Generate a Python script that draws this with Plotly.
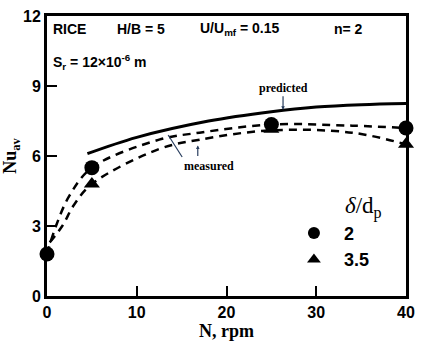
import plotly.graph_objects as go

# measured points
n_rpm = [0, 5, 25, 40]
nu_d2 = [1.8, 5.5, 7.35, 7.2]
n_rpm_t = [5, 25, 40]
nu_d35 = [4.8, 7.15, 6.5]

# predicted curve
pred_x = [4.5, 10, 18, 25, 30, 35, 40]
pred_y = [6.1, 6.8, 7.5, 7.9, 8.1, 8.2, 8.25]

# measured fitted curves (dashed)
fit1_x = [0, 1, 2.5, 5, 12.5, 17, 25, 34, 40]
fit1_y = [1.8, 3.0, 4.3, 5.5, 6.7, 7.0, 7.35, 7.3, 7.2]
fit2_x = [0.3, 1.7, 3, 5, 12.5, 17, 25, 34, 40]
fit2_y = [2.3, 3.0, 3.9, 4.8, 6.3, 6.7, 7.1, 7.0, 6.5]

xticks = [0, 10, 20, 30, 40]
yticks = [0, 3, 6, 9, 12]
xtick_text = ["<b>%d</b>" % v for v in xticks]
ytick_text = ["<b>%d</b>" % v for v in yticks]

fig = go.Figure()
fig.add_trace(go.Scatter(x=pred_x, y=pred_y, mode="lines", line=dict(color="black", width=3, shape="spline"), showlegend=False))
fig.add_trace(go.Scatter(x=fit1_x, y=fit1_y, mode="lines", line=dict(color="black", width=2.5, dash="8px,6px", shape="spline"), showlegend=False))
fig.add_trace(go.Scatter(x=fit2_x, y=fit2_y, mode="lines", line=dict(color="black", width=2.5, dash="8px,6px", shape="spline"), showlegend=False))
fig.add_trace(go.Scatter(x=n_rpm, y=nu_d2, mode="markers", name="<b>2</b>", marker=dict(symbol="circle", size=15, color="black"), cliponaxis=False))
fig.add_trace(go.Scatter(x=n_rpm_t, y=nu_d35, mode="markers", name="<b>3.5</b>", marker=dict(symbol="triangle-up", size=14, color="black"), cliponaxis=False))

bold = dict(family="Liberation Sans", size=14, color="black")
serif = dict(family="Liberation Serif", size=12, color="black")
anns = [
    dict(x=0.4, y=11.45, text="RICE"),
    dict(x=7.6, y=11.45, text="H/B = 5"),
    dict(x=16.8, y=11.45, text="U/U<sub>mf</sub> = 0.15"),
    dict(x=31.8, y=11.45, text="n= 2"),
    dict(x=0.4, y=10.05, text="S<sub>r</sub> = 12×10<sup>-6</sup> m"),
]
layout_anns = []
for a in anns:
    layout_anns.append(dict(x=a["x"], y=a["y"], text="<b>" + a["text"] + "</b>", xanchor="left", yanchor="middle",
                            showarrow=False, font=bold, xref="x", yref="y"))
layout_anns.append(dict(x=26.3, y=7.98, ax=0, ay=-22, text="<b>predicted</b>", showarrow=True, arrowhead=2,
                        arrowsize=0.6, arrowwidth=1.2, font=serif, xref="x", yref="y"))
layout_anns.append(dict(x=13.5, y=6.9, ax=14, ay=22, text="<b>measured</b>", showarrow=True, arrowhead=0,
                        arrowwidth=1.2, xanchor="left", yanchor="top", font=serif,
                        xref="x", yref="y"))
layout_anns.append(dict(x=16.8, y=6.45, ax=0, ay=12, text="", showarrow=True, arrowhead=2,
                        arrowsize=0.6, arrowwidth=1.2, xref="x", yref="y"))
layout_anns.append(dict(x=35.3, y=3.8, xref="x", yref="y", text="<i>δ</i>/d<sub>p</sub>", showarrow=False,
                        font=dict(family="Liberation Serif", size=23, color="black")))

fig.update_layout(
    width=423, height=342,
    margin=dict(l=44, r=8, t=14, b=42),
    paper_bgcolor="white", plot_bgcolor="white",
    annotations=layout_anns,
    legend=dict(x=0.66, y=0.29, xanchor="left", yanchor="top", bgcolor="rgba(0,0,0,0)",
                font=dict(family="Liberation Sans", size=18, color="black"),
                tracegroupgap=0, itemsizing="constant", itemwidth=50),
    xaxis=dict(range=[0, 40], tickvals=xticks, ticktext=xtick_text, ticks="inside", ticklen=10, tickwidth=2, tickcolor="black",
               showline=True, linewidth=3, linecolor="black", mirror=True, showgrid=False, zeroline=False,
               tickfont=dict(family="Liberation Sans", size=16, color="black"),
               ticklabelstandoff=0,
               title=dict(text="<b>N, rpm</b>", standoff=0,
                          font=dict(family="Liberation Serif", size=18, color="black"))),
    yaxis=dict(range=[0, 12], tickvals=yticks, ticktext=ytick_text, ticks="inside", ticklen=10, tickwidth=2, tickcolor="black",
               showline=True, linewidth=3, linecolor="black", mirror=True, showgrid=False, zeroline=False,
               tickfont=dict(family="Liberation Sans", size=16, color="black"),
               ticklabelstandoff=0,
               title=dict(text="<b>Nu<sub>av</sub></b>", standoff=2,
                          font=dict(family="Liberation Serif", size=18, color="black"))),
)
fig.write_html("out.html")
